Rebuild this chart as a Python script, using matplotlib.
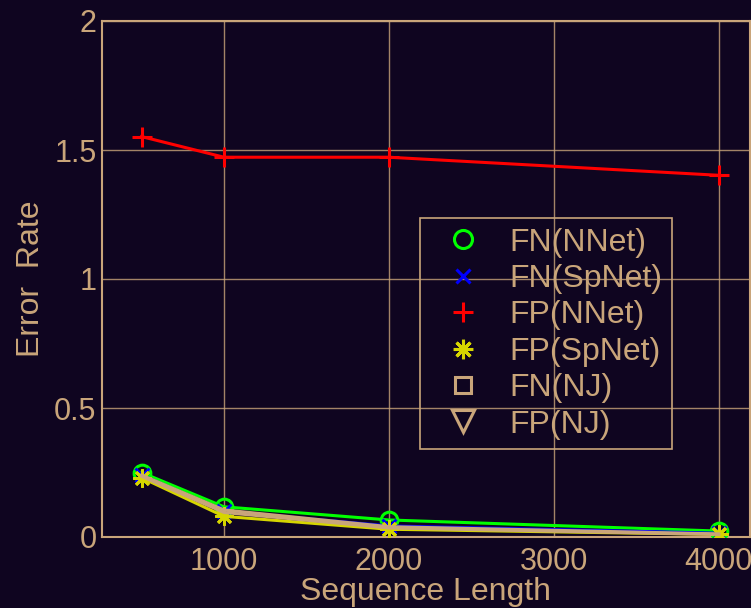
import matplotlib
matplotlib.use("Agg")
import matplotlib.pyplot as plt
from matplotlib.lines import Line2D

plt.rcParams['font.family'] = ['Liberation Sans', 'DejaVu Sans']

seq_len = [500, 1000, 2000, 4000]
fn_nnet = [0.25, 0.117, 0.066, 0.023]
fn_spnet = [0.24, 0.10, 0.043, 0.015]
fp_nnet = [1.552, 1.472, 1.472, 1.402]
fp_spnet = [0.23, 0.08, 0.03, 0.01]
fn_nj = [0.24, 0.105, 0.04, 0.012]
fp_nj = [0.235, 0.095, 0.035, 0.01]
xticks = [1000, 2000, 3000, 4000]
yticks = [0, 0.5, 1, 1.5, 2]
ytick_labels = ['0', '0.5', '1', '1.5', '2']

bg = '#0f0520'
fg = '#c9a57a'

fig = plt.figure(figsize=(7.51, 6.08), dpi=100, facecolor=bg)
ax = fig.add_axes([102/751, 1-537/608, (750-102)/751, (537-21)/608])
ax.set_facecolor(bg)

lw = 2.2
ax.plot(seq_len, fn_nnet, color='#00ff00', lw=lw, marker='o', ms=12, mfc='none', mew=2.2, zorder=3)
ax.plot(seq_len, fn_spnet, color='#0000ff', lw=lw, marker='x', ms=10, mew=2, zorder=4)
ax.plot(seq_len, fp_spnet, color='#d6d600', lw=lw, marker=(8, 2, 0), ms=13, mew=2, zorder=4)
ax.plot(seq_len, fn_nj, color=fg, lw=lw, zorder=5)
ax.plot(seq_len, fp_nj, color=fg, lw=lw, zorder=5)
ax.plot(seq_len, fp_nnet, color='#ff0000', lw=lw, marker='+', ms=14, mew=2.2, zorder=4)

ax.set_xlim(260, 4190)
ax.set_ylim(0, 2)
ax.set_xticks(xticks)
ax.set_yticks(yticks)
ax.set_yticklabels(ytick_labels)
ax.grid(True, color=fg, lw=1, alpha=0.8)
ax.set_axisbelow(True)
for s in ax.spines.values():
    s.set_color(fg)
    s.set_linewidth(1.5)
ax.tick_params(colors=fg, labelsize=22, length=0)
ax.tick_params(axis='y', pad=4)
ax.tick_params(axis='x', pad=7)
ax.set_xlabel('Sequence Length', color=fg, fontsize=23, labelpad=0)
ax.set_ylabel('Error  Rate', color=fg, fontsize=23, labelpad=6)

handles = [
    Line2D([], [], ls='none', marker='o', ms=13, mfc='none', mec='#00ff00', mew=2.2),
    Line2D([], [], ls='none', marker='x', ms=10, mec='#0000ff', mew=2.2),
    Line2D([], [], ls='none', marker='+', ms=15, mec='#ff0000', mew=2.2),
    Line2D([], [], ls='none', marker=(8, 2, 0), ms=14, mec='#d6d600', mew=2.2),
    Line2D([], [], ls='none', marker='s', ms=11, mfc='none', mec=fg, mew=2.2),
    Line2D([], [], ls='none', marker='v', ms=16, mfc='none', mec=fg, mew=2.2),
]
labels = ['FN(NNet)', 'FN(SpNet)', 'FP(NNet)', 'FP(SpNet)', 'FN(NJ)', 'FP(NJ)']
leg = ax.legend(handles, labels, loc='upper left', bbox_to_anchor=((420-102)/648, (537-218)/516),
                fontsize=23, frameon=True, fancybox=False, facecolor='none',
                edgecolor=fg, labelcolor=fg, handletextpad=0.4, borderpad=0.3,
                labelspacing=0.2, handlelength=2.1, borderaxespad=0)
leg.get_frame().set_linewidth(1.2)
leg.get_frame().set_alpha(None)

fig.savefig('out.png', dpi=100, facecolor=bg)
